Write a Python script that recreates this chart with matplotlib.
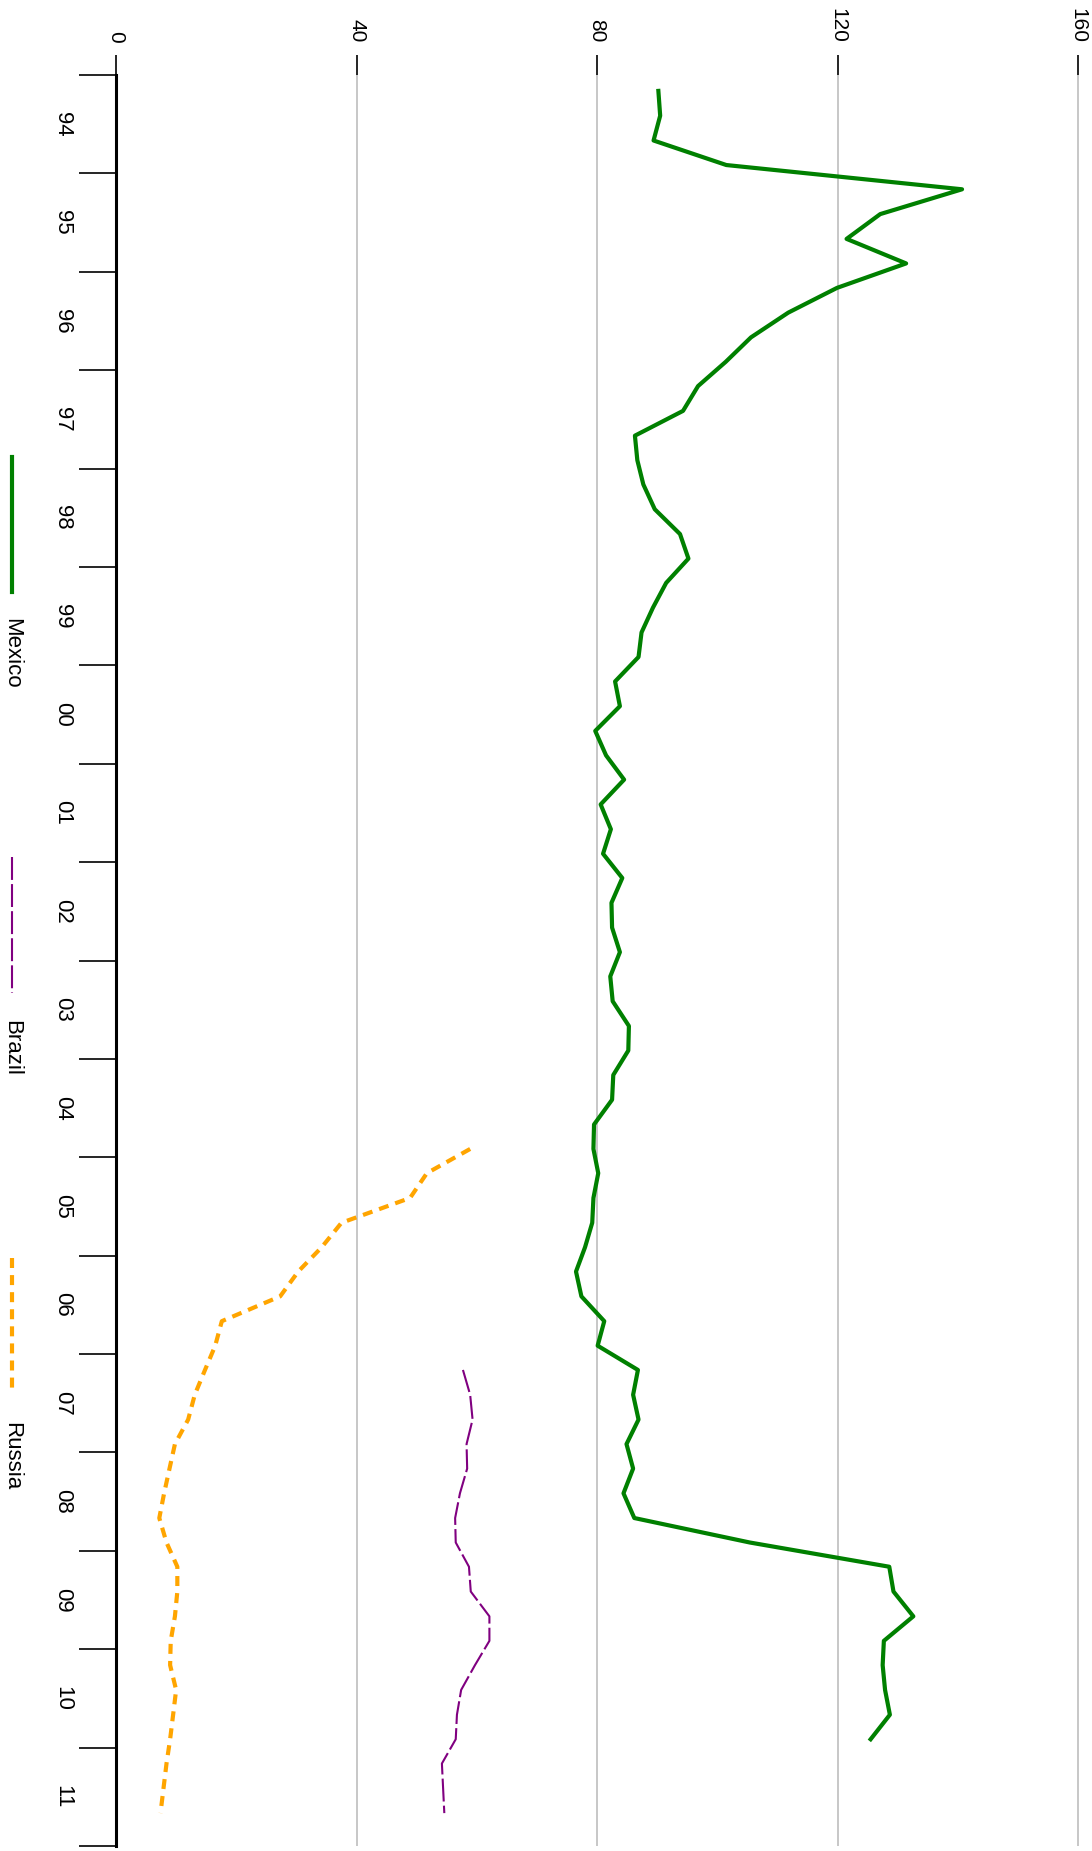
import numpy as np
import pandas as pd
import matplotlib
matplotlib.use("Agg")
import matplotlib.pyplot as plt
from matplotlib.lines import Line2D

plt.rcParams['font.family'] = ['Liberation Sans', 'DejaVu Sans']

# ------------------------------------------
# DATA: quarterly readings (1st of Mar / Jun / Sep / Dec)
# ------------------------------------------
mexico_start = "1994-03-01"
mexico = [90.2, 90.5, 89.4, 101.5,
          140.7, 127.1, 121.5, 131.4,
          119.9, 111.8, 105.6, 101.4,
          96.8, 94.3, 86.3, 86.7,
          87.7, 89.6, 93.8, 95.2,
          91.5, 89.3, 87.4, 86.9,
          83.0, 83.8, 79.7, 81.5,
          84.5, 80.6, 82.3, 81.0,
          84.2, 82.4, 82.5, 83.8,
          82.2, 82.6, 85.3, 85.2,
          82.7, 82.5, 79.5, 79.4,
          80.2, 79.4, 79.2, 78.0,
          76.5, 77.4, 81.2, 80.1,
          86.8, 86.0, 86.9, 84.9,
          86.0, 84.4, 86.2, 105.4,
          128.6, 129.3, 132.6, 127.7,
          127.5, 127.9, 128.7, 125.5]

brazil_start = "2007-03-01"
brazil = [57.7, 58.9, 59.3, 58.3,
          58.4, 57.2, 56.4, 56.5,
          58.7, 59.0, 62.1, 62.1,
          59.7, 57.4, 56.7, 56.5,
          54.2, 54.4, 54.6]

russia_start = "2004-12-01"
russia = [58.9,
          51.7, 48.9, 37.5, 34.2,
          30.3, 27.3, 17.6, 16.5,
          14.8, 13.1, 12.0, 9.8,
          8.9, 8.0, 7.2, 8.4,
          10.2, 10.2, 9.8, 9.1,
          9.0, 10.0, 9.5, 9.0,
          8.4, 7.9, 7.4]

years = list(range(1994, 2013))
year_labels = ["%02d" % (y % 100) for y in years[:-1]]
value_ticks = [0, 40, 80, 120, 160]


def decimal_dates(start, n):
    d = pd.date_range(start, periods=n, freq="3MS")
    days = np.where(d.is_leap_year, 366, 365)
    return d.year + (d.dayofyear - 1) / days


W, H = 1092, 1851
fig = plt.figure(figsize=(W / 100, H / 100), dpi=100)
ax = fig.add_axes([116 / W, 5 / H, (W - 116) / W, (1846 - 75) / H])

mexico_style = dict(color="#008000", lw=3.0)
brazil_style = dict(color="#800080", lw=1.5, dashes=(11, 2))
russia_style = dict(color="#FFA500", lw=3.0, dashes=(2.4, 1.7))

# time runs downwards, values to the right
ax.plot(mexico, decimal_dates(mexico_start, len(mexico)), **mexico_style)
ax.plot(brazil, decimal_dates(brazil_start, len(brazil)), **brazil_style)
ax.plot(russia, decimal_dates(russia_start, len(russia)), **russia_style)

ax.set_xlim(0, (W - 116) / 6.013)
ax.set_ylim(2012, 1994)

for s in ["top", "right", "bottom"]:
    ax.spines[s].set_visible(False)
ax.spines["left"].set_linewidth(2.2)

ax.grid(axis="x", color="#bebebe", lw=1.2)
ax.set_axisbelow(True)

ax.xaxis.tick_top()
ax.set_xticks(value_ticks)
ax.set_xticklabels([str(v) for v in value_ticks])
ax.tick_params(axis="x", length=14.4, width=1.2, pad=9,
               labelrotation=-90, labelsize=15)

ax.set_yticks(years)
ax.set_yticklabels([""] * len(years))
ax.set_yticks([y + 0.5 for y in years[:-1]], minor=True)
ax.set_yticklabels(year_labels, minor=True)
ax.tick_params(axis="y", which="major", length=26.6, width=1.2)
ax.tick_params(axis="y", which="minor", length=0, pad=31,
               labelrotation=-90, labelsize=16)
for t in ax.get_yticklabels(minor=True):
    t.set_va("center")

# legend drawn down the left margin
legend = [("Mexico", 457, 592, 618, mexico_style),
          ("Brazil", 857, 993, 1020, brazil_style),
          ("Russia", 1258, 1391, 1422, russia_style)]
lx = 12 / W
for name, y0, y1, ty, style in legend:
    fig.add_artist(Line2D([lx, lx], [1 - y0 / H, 1 - y1 / H],
                          transform=fig.transFigure, **style))
    fig.text(lx, 1 - ty / H, name, rotation=-90, ha="center", va="top",
             fontsize=16)

fig.savefig("out.png", dpi=100)
